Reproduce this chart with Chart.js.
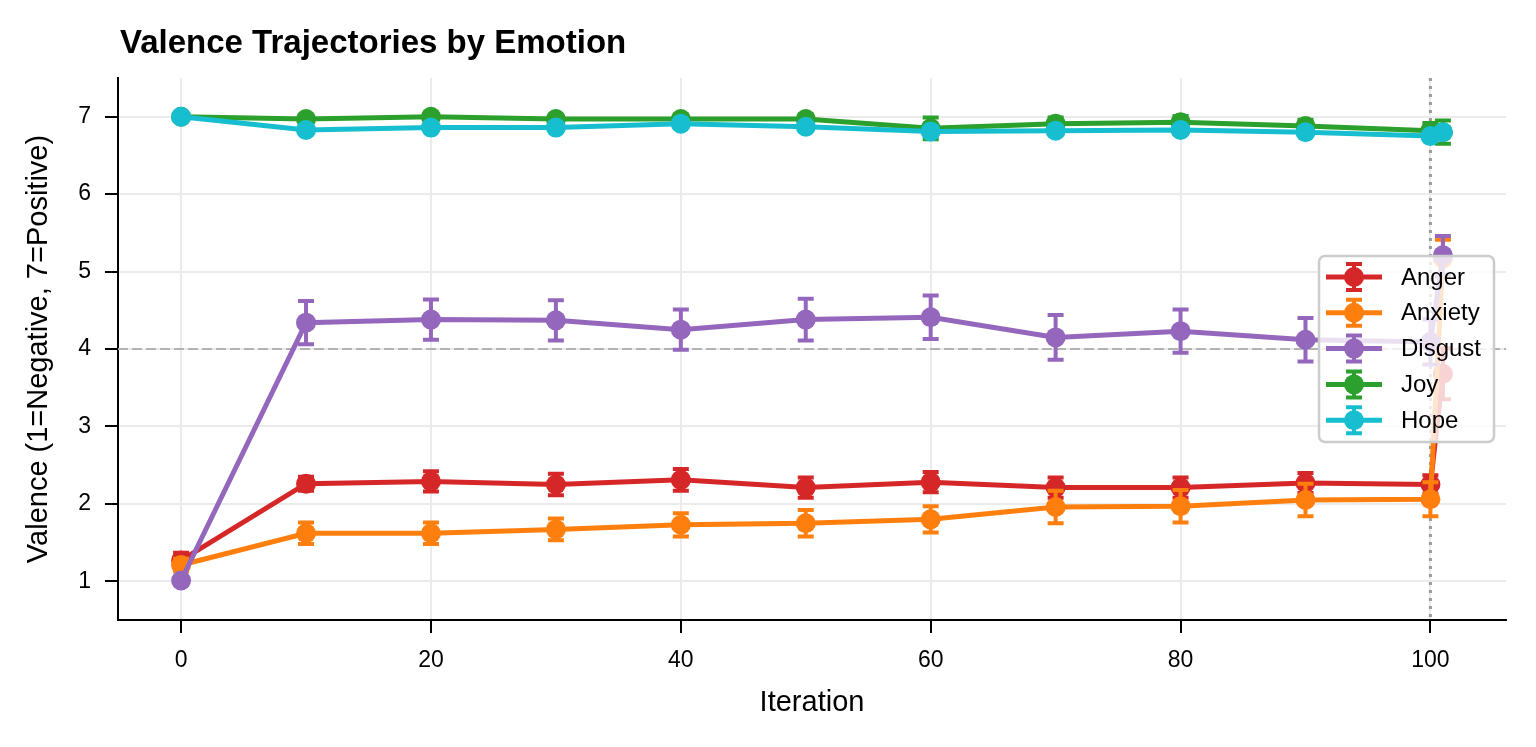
<!DOCTYPE html>
<html>
<head>
<meta charset="utf-8">
<script src="https://cdn.jsdelivr.net/npm/chart.js@4.4.1/dist/chart.umd.min.js"></script>
<style>
  html, body { margin: 0; padding: 0; background: #fff; }
  #wrap { width: 1536px; height: 747px; }
</style>
</head>
<body>
<div id="wrap"><canvas id="valenceChart" width="1536" height="747"></canvas></div>
<script>
// valores
const iterations = [0, 10, 20, 30, 40, 50, 60, 70, 80, 90, 100, 101];

const angerMean = [1.27, 2.26, 2.29, 2.25, 2.31, 2.21, 2.28, 2.21, 2.21, 2.27, 2.25, 3.68];
const angerErr = [0.10, 0.09, 0.13, 0.14, 0.14, 0.13, 0.13, 0.13, 0.13, 0.13, 0.12, 0.33];

const anxietyMean = [1.21, 1.62, 1.62, 1.67, 1.73, 1.75, 1.80, 1.96, 1.97, 2.05, 2.06, 5.17];
const anxietyErr = [0.08, 0.14, 0.14, 0.14, 0.15, 0.17, 0.17, 0.21, 0.21, 0.21, 0.22, 0.24];

const disgustMean = [1.01, 4.34, 4.38, 4.37, 4.25, 4.38, 4.41, 4.15, 4.23, 4.12, 4.09, 5.21];
const disgustErr = [0.05, 0.28, 0.26, 0.26, 0.26, 0.27, 0.28, 0.29, 0.28, 0.28, 0.29, 0.25];

const joyMean = [7.00, 6.97, 7.00, 6.97, 6.97, 6.97, 6.85, 6.91, 6.93, 6.88, 6.82, 6.80];
const joyErr = [0.00, 0.05, 0.05, 0.05, 0.06, 0.06, 0.14, 0.08, 0.08, 0.08, 0.10, 0.15];

const hopeMean = [7.00, 6.83, 6.86, 6.86, 6.91, 6.87, 6.81, 6.82, 6.83, 6.80, 6.75, 6.80];
const hopeErr = [0.00, 0.04, 0.04, 0.04, 0.04, 0.04, 0.05, 0.05, 0.05, 0.05, 0.05, 0.05];

const emotions = ["Anger", "Anxiety", "Disgust", "Joy", "Hope"];
const colors = ["#d62728", "#ff7f0e", "#9467bd", "#2ca02c", "#17becf"];
const means = [angerMean, anxietyMean, disgustMean, joyMean, hopeMean];
const errs = [angerErr, anxietyErr, disgustErr, joyErr, hopeErr];

const xTicks = [0, 20, 40, 60, 80, 100];
const yTicks = [1, 2, 3, 4, 5, 6, 7];
const neutralValence = 4;   // linha tracejada
const markerIteration = 100; // linha pontilhada vertical

const FONT = "'Liberation Sans', Arial, sans-serif";

// barras de erro desenhadas antes de cada série (mesma ordem do matplotlib)
const errorBars = {
  id: "errorBars",
  beforeDatasetDraw(chart, args) {
    const ctx = chart.ctx;
    const ds = chart.data.datasets[args.index];
    const y = chart.scales.y;
    const x = chart.scales.x;
    ctx.save();
    ctx.strokeStyle = ds.borderColor;
    ctx.lineWidth = 4;
    ds.errors.forEach((e, i) => {
      const px = x.getPixelForValue(ds.data[i].x);
      const top = y.getPixelForValue(ds.data[i].y + e);
      const bot = y.getPixelForValue(ds.data[i].y - e);
      ctx.beginPath();
      ctx.moveTo(px, top); ctx.lineTo(px, bot);
      ctx.moveTo(px - 8, top); ctx.lineTo(px + 8, top);
      ctx.moveTo(px - 8, bot); ctx.lineTo(px + 8, bot);
      ctx.stroke();
    });
    ctx.restore();
  }
};

const refLines = {
  id: "refLines",
  beforeDatasetsDraw(chart) {
    const {ctx, chartArea, scales} = chart;
    ctx.save();
    const yy = scales.y.getPixelForValue(neutralValence);
    ctx.strokeStyle = "#b3b3b3";
    ctx.lineWidth = 2;
    ctx.setLineDash([10, 4]);
    ctx.beginPath();
    ctx.moveTo(chartArea.left, yy); ctx.lineTo(chartArea.right, yy);
    ctx.stroke();
    const xx = scales.x.getPixelForValue(markerIteration);
    ctx.strokeStyle = "#9a9a9a";
    ctx.lineWidth = 3;
    ctx.setLineDash([3, 5]);
    ctx.beginPath();
    ctx.moveTo(xx, chartArea.top); ctx.lineTo(xx, chartArea.bottom);
    ctx.stroke();
    ctx.restore();
  }
};

// título e legenda (legenda dentro da área, à direita)
const overlay = {
  id: "overlay",
  afterDraw(chart) {
    const {ctx, chartArea} = chart;
    ctx.save();
    ctx.fillStyle = "#000";
    ctx.font = "bold 33px " + FONT;
    ctx.textBaseline = "middle";
    ctx.textAlign = "left";
    ctx.fillText("Valence Trajectories by Emotion", chartArea.left + 2, 44);

    const w = 175, h = 186;
    const lx = chartArea.right - 12 - w;
    const ly = (chartArea.top + chartArea.bottom) / 2 - h / 2;
    ctx.beginPath();
    ctx.roundRect(lx, ly, w, h, 6);
    ctx.fillStyle = "rgba(255,255,255,0.8)";
    ctx.fill();
    ctx.strokeStyle = "#cccccc";
    ctx.lineWidth = 2.5;
    ctx.stroke();

    ctx.font = "24px " + FONT;
    chart.data.datasets.forEach((ds, i) => {
      const cy = ly + 21 + i * 35.8;
      const cx = lx + 35;
      ctx.strokeStyle = ds.borderColor;
      ctx.fillStyle = ds.borderColor;
      ctx.lineWidth = 5;
      ctx.beginPath();
      ctx.moveTo(lx + 7, cy); ctx.lineTo(lx + 63, cy);
      ctx.stroke();
      ctx.lineWidth = 4;
      ctx.beginPath();
      ctx.moveTo(cx, cy - 13); ctx.lineTo(cx, cy + 13);
      ctx.moveTo(cx - 8, cy - 13); ctx.lineTo(cx + 8, cy - 13);
      ctx.moveTo(cx - 8, cy + 13); ctx.lineTo(cx + 8, cy + 13);
      ctx.stroke();
      ctx.beginPath();
      ctx.arc(cx, cy, 10, 0, Math.PI * 2);
      ctx.fill();
      ctx.fillStyle = "#000";
      ctx.fillText(ds.label, lx + 82, cy + 1);
    });
    ctx.restore();
  }
};

const datasets = emotions.map((name, k) => ({
  label: name,
  data: iterations.map((it, i) => ({x: it, y: means[k][i]})),
  errors: errs[k],
  borderColor: colors[k],
  backgroundColor: colors[k],
  pointBackgroundColor: colors[k],
  pointBorderWidth: 0,
  pointRadius: 10,
  borderWidth: 5,
  tension: 0,
  fill: false,
  order: emotions.length - k  // o último fica por cima
}));

new Chart(document.getElementById("valenceChart"), {
  type: "line",
  data: { datasets: datasets },
  plugins: [errorBars, refLines, overlay],
  options: {
    responsive: false,
    devicePixelRatio: 1,
    animation: false,
    layout: { padding: { top: 78, right: 30, left: 0, bottom: 0 } },
    plugins: {
      legend: { display: false },
      tooltip: { enabled: false },
      title: { display: false }
    },
    scales: {
      x: {
        type: "linear",
        min: -5.05,
        max: 106.05,
        afterBuildTicks: axis => { axis.ticks = xTicks.map(v => ({value: v})); },
        afterFit: axis => { axis.height = 127; },
        grid: { color: "#ebebeb", lineWidth: 2, tickColor: "#000", tickWidth: 2, tickLength: 13 },
        border: { color: "#000", width: 2 },
        ticks: { color: "#000", font: { size: 23, family: FONT }, padding: 14 },
        title: { display: true, text: "Iteration", color: "#000", font: { size: 29, family: FONT }, padding: { top: 4, bottom: 27 } }
      },
      y: {
        min: 0.5,
        max: 7.5,
        afterBuildTicks: axis => { axis.ticks = yTicks.map(v => ({value: v})); },
        afterFit: axis => { axis.width = 118; },
        grid: { color: "#ebebeb", lineWidth: 2, tickColor: "#000", tickWidth: 2, tickLength: 13 },
        border: { color: "#000", width: 2 },
        ticks: { color: "#000", font: { size: 23, family: FONT }, padding: 14 },
        title: { display: true, text: "Valence (1=Negative, 7=Positive)", color: "#000", font: { size: 29, family: FONT }, padding: { top: 22, bottom: 4 } }
      }
    }
  }
});
</script>
</body>
</html>
